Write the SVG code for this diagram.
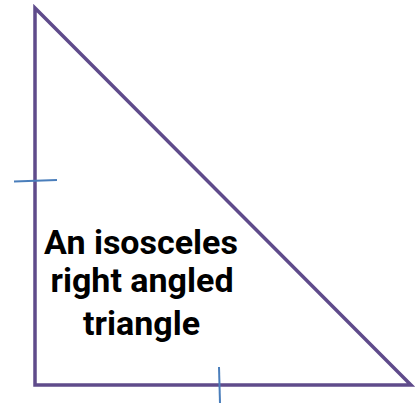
<svg xmlns="http://www.w3.org/2000/svg" width="416" height="403" viewBox="0 0 416 403">
<style>
.edge{fill:none;stroke:#5f4b8b;stroke-width:3.5;stroke-linejoin:miter}
.tick{fill:none;stroke:#4a7ebb;stroke-width:2}
.lbl{font-family:Roboto,"Liberation Sans",Arial,sans-serif;font-weight:bold;font-size:34px;fill:#000;text-anchor:middle}
</style>
<rect width="416" height="403" fill="#fff"/>
<g id="triangle">
<polygon class="edge" points="35,8 35,385 411,385"/>
</g>
<g id="connectors">
<line class="tick" x1="14" y1="181.5" x2="57" y2="180"/>
<line class="tick" x1="219" y1="367" x2="220" y2="403"/>
</g>
<g id="label">
<text class="lbl" x="141" y="254">An isosceles</text>
<text class="lbl" x="142" y="292">right angled</text>
<text class="lbl" x="141.5" y="335">triangle</text>
</g>
</svg>
